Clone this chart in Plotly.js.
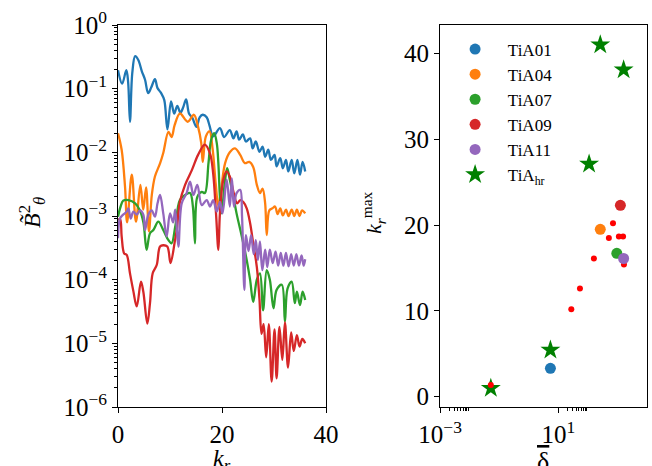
<!DOCTYPE html>
<html>
<head>
<meta charset="utf-8">
<script src="https://cdn.plot.ly/plotly-3.0.1.min.js"></script>
<style>html,body{margin:0;padding:0;background:#fff;}#chart{width:652px;height:466px;}</style>
</head>
<body>
<div id="chart"></div>
<script>
// ---- Left panel: spectra B_theta^2 vs k_r ----
const krA01 = [0,0.8,1.6,1.95,2.3,2.75,3.3,3.9,4.6,5.2,5.8,6.4,7.1,7.6,8.3,8.9,9.5,10.2,10.8,11.4,12.0,12.5,13.1,13.65,14.3,15.1,15.7,16.3,17.05,17.6,18.3,19.6,20.4,21.5,22.2,22.8,23.3,24.0,24.6,25.4,25.9,26.5,27.2,27.8,28.3,28.9,29.4,30.1,30.5,31.2,31.7,32.3,32.75,33.4,33.9,34.5,35.0,35.5,36.0];
const bA01 = [0.195,0.120,0.195,0.126,0.0302,0.178,0.324,0.282,0.186,0.138,0.0851,0.105,0.141,0.102,0.0851,0.0661,0.0229,0.0631,0.0407,0.0537,0.0417,0.0501,0.0676,0.0407,0.0347,0.0251,0.0355,0.0389,0.0355,0.0263,0.0178,0.0240,0.0174,0.0224,0.0166,0.0214,0.0158,0.0191,0.0148,0.0166,0.0115,0.0148,0.0102,0.0123,0.00851,0.0110,0.00759,0.00912,0.00603,0.00813,0.00562,0.00759,0.00501,0.00759,0.00468,0.00759,0.00447,0.00708,0.00501];

const krA04 = [0,0.7,1.35,1.75,2.65,3.45,4.3,4.85,5.4,5.95,6.5,7.1,8.1,8.7,9.7,10.3,10.9,11.9,13.4,14.6,15.4,16.0,16.3,16.9,17.6,18.2,18.8,19.3,19.8,20.6,21.5,22.5,23.5,24.4,25.25,26.0,26.7,27.3,27.8,28.3,28.6,29.1,29.7,30.2,30.7,31.2,31.7,32.3,32.8,33.4,33.9,34.4,34.9,35.4,36.0];
const bA04 = [0.0200,0.0110,0.00288,0.000794,0.00447,0.000813,0.00309,0.00126,0.00282,0.000575,0.00214,0.00417,0.00676,0.00977,0.0209,0.0174,0.0269,0.0407,0.0302,0.0389,0.0251,0.0141,0.00708,0.0178,0.0214,0.0112,0.00316,0.00141,0.00251,0.00676,0.0100,0.0115,0.00912,0.00676,0.00708,0.00589,0.00309,0.00229,0.00269,0.00158,0.000501,0.00123,0.00132,0.00141,0.00107,0.00132,0.00102,0.00126,0.00100,0.00126,0.00100,0.00126,0.00100,0.00123,0.00110];

const krA07 = [0,0.5,1.0,2.0,3.3,4.2,4.9,5.5,6.15,6.8,7.75,8.7,9.7,10.3,11.0,11.9,12.9,13.85,14.4,14.8,15.25,16.1,16.7,17.4,17.9,18.5,19.0,19.3,19.6,19.9,20.6,21.0,21.5,22.2,22.8,23.8,24.75,25.4,26.0,26.7,27.3,27.9,28.6,29.2,29.9,30.5,31.5,32.1,32.6,33.4,34.0,34.4,35.0,35.5,36.0];
const bA07 = [0.000977,0.00141,0.00174,0.00178,0.00158,0.00123,0.000776,0.000295,0.000537,0.000603,0.000813,0.000603,0.000417,0.000372,0.000676,0.00178,0.00214,0.00229,0.00141,0.000372,0.00200,0.00240,0.00229,0.00676,0.0155,0.0200,0.0138,0.00676,0.00200,0.00110,0.00372,0.00562,0.00372,0.00200,0.00110,0.000479,0.000204,0.000100,4.47e-5,1.00e-4,1.26e-4,3.31e-5,1.41e-4,1.00e-4,3.55e-5,6.92e-5,8.32e-5,2.19e-5,7.24e-5,9.33e-5,4.27e-5,6.46e-5,3.98e-5,6.46e-5,4.79e-5];

const krA09 = [0,0.4,0.7,1.2,1.67,2.3,2.95,3.6,4.42,4.87,5.64,6.15,6.67,7.44,8.08,8.7,9.48,10.1,10.96,11.3,11.9,12.9,14.2,15.4,16.7,17.7,18.3,18.85,19.3,19.6,20.25,20.9,21.5,22.2,22.9,23.5,24.1,24.75,25.4,26.0,26.7,27.2,27.6,28.0,28.5,29.0,29.55,30.1,30.5,31.05,31.6,32.1,32.7,33.3,33.8,34.4,34.9,35.45,36.0];
const bA09 = [0.000871,0.000891,0.000479,0.000257,0.000245,0.000126,6.61e-5,3.80e-5,9.33e-5,6.46e-5,2.04e-5,4.27e-5,1.26e-4,1.70e-4,3.31e-4,3.47e-4,3.31e-4,1.82e-4,4.17e-4,6.03e-4,0.00166,0.00309,0.00525,0.00912,0.0132,0.00955,0.00468,0.00110,0.000295,0.00110,0.00372,0.00501,0.00417,0.00240,0.00158,0.00178,0.00166,0.00132,0.000776,0.000372,0.000158,5.01e-5,1.41e-5,2.00e-5,6.03e-6,2.00e-5,2.51e-6,1.66e-5,2.82e-6,1.82e-5,5.50e-6,2.14e-5,4.17e-6,1.48e-5,7.59e-6,1.35e-5,8.91e-6,1.17e-5,1.00e-5];

const krA11 = [0,0.38,1.0,1.67,2.0,2.44,2.95,3.6,4.23,4.87,5.2,5.83,6.48,7.1,7.6,8.08,8.7,9.36,10.0,10.6,11.0,11.6,12.25,13.2,13.85,14.5,15.25,16.1,17.05,17.7,18.3,19.0,19.6,20.1,20.9,21.5,21.9,22.3,22.8,23.5,23.85,24.3,24.6,25.1,25.6,26.1,26.5,26.9,27.3,27.75,28.3,28.7,29.2,29.75,30.3,30.8,31.3,31.8,32.3,32.8,33.3,33.8,34.3,34.8,35.3,35.7,36.0];
const bA11 = [0.000447,0.000912,0.00105,0.00117,0.00132,0.000912,0.00117,0.00105,0.00123,0.00105,0.000603,0.00105,0.00123,0.000977,0.00158,0.00214,0.00110,0.000479,0.00110,0.000794,0.00126,0.000331,0.00158,0.00229,0.00347,0.00214,0.00309,0.00148,0.00178,0.00141,0.00178,0.00117,0.00166,0.00110,0.00372,0.00141,0.00389,0.00141,0.00229,0.00257,0.00100,6.92e-5,5.01e-4,2.82e-4,5.01e-4,2.51e-4,4.17e-4,2.04e-4,3.98e-4,1.41e-4,2.95e-4,1.58e-4,2.95e-4,1.82e-4,2.75e-4,1.66e-4,2.63e-4,1.66e-4,2.63e-4,1.62e-4,2.51e-4,1.66e-4,2.51e-4,1.66e-4,2.40e-4,1.66e-4,2.09e-4];

const seriesNames = ['TiA01','TiA04','TiA07','TiA09','TiA11'];
const seriesColors = ['#1f77b4','#ff7f0e','#2ca02c','#d62728','#9467bd'];

// ---- Right panel: k_r^max vs delta-bar ----
const deltaMain = [5.4, 263, 955, 1260, 1620];
const kmaxMain = [3.3, 19.5, 16.7, 22.3, 16.1];
const deltaHr = [0.052, 5.4, 110, 263, 1620];
const kmaxHr = [0.98, 5.44, 27.1, 41.0, 38.1];
const deltaSmall = [0.052, 27.5, 54, 160, 513, 708, 1120, 1550, 1660];
const kmaxSmall = [1.36, 10.2, 12.6, 16.1, 18.5, 20.2, 18.65, 18.65, 15.4];
const hrName = 'TiA<sub>hr</sub>';

// tick labels and titles
const leftYTickVals = [1, 1e-1, 1e-2, 1e-3, 1e-4, 1e-5, 1e-6];
const leftYTickText = ['10<sup>0</sup>','10<sup>−1</sup>','10<sup>−2</sup>','10<sup>−3</sup>','10<sup>−4</sup>','10<sup>−5</sup>','10<sup>−6</sup>'];
const rightXTickVals = [1e-3, 10];
const rightXTickText = ['10<sup>−3</sup>','10<sup>1</sup>'];
const leftXTitle = '<i>k<sub>r</sub></i>';
const leftYTitle = '<i>B̃</i><sup>2</sup><sub><i>θ</i></sub>';
const rightXTitle = '<span style="text-decoration:overline">δ</span>';
const rightYTitle = '<i>k</i><sub><i>r</i></sub><sup>max</sup>';

// minor tick positions (axis decoration)
const minorLeftY = [];
for (let e = -6; e < 0; e++) for (let m = 2; m <= 9; m++) minorLeftY.push(m * Math.pow(10, e));
const minorRightX = [];
[-3, 1].forEach(e => { for (let m = 2; m <= 9; m++) minorRightX.push(m * Math.pow(10, e)); });

const FONT = 'Liberation Serif, Times New Roman, serif';
const LEGPAD = '\u2002\u2005';

const traces = [];
const krs = [krA01, krA04, krA07, krA09, krA11];
const bs = [bA01, bA04, bA07, bA09, bA11];
for (let i = 0; i < 5; i++) {
  traces.push({
    x: krs[i], y: bs[i], xaxis: 'x', yaxis: 'y', mode: 'lines',
    line: {color: seriesColors[i], width: 2.3, shape: 'spline', smoothing: 1},
    showlegend: false, hoverinfo: 'skip'
  });
}
traces.push({
  x: deltaHr, y: kmaxHr, xaxis: 'x2', yaxis: 'y2', mode: 'markers', name: LEGPAD + hrName,
  marker: {symbol: 'star', size: 15, color: '#008000'}, legendrank: 6
});
traces.push({
  x: deltaSmall, y: kmaxSmall, xaxis: 'x2', yaxis: 'y2', mode: 'markers',
  marker: {symbol: 'circle', size: 6, color: '#ff0000'}, showlegend: false
});
for (let i = 0; i < 5; i++) {
  traces.push({
    x: [deltaMain[i]], y: [kmaxMain[i]], xaxis: 'x2', yaxis: 'y2', mode: 'markers',
    name: LEGPAD + seriesNames[i], marker: {symbol: 'circle', size: 11, color: seriesColors[i]},
    legendrank: i + 1
  });
}

const axCommon = {
  showline: true, mirror: true, linecolor: '#000', linewidth: 1,
  ticks: 'outside', ticklen: 5, tickwidth: 1, tickcolor: '#000',
  showgrid: false, zeroline: false,
  tickfont: {family: FONT, size: 25, color: '#000'}
};

// convert pixel positions to paper coordinates for the titles
const W = 652, H = 466, MT = 25, MB = 59;
const px2x = p => p / W;
const py2y = p => 1 - (p - MT) / (H - MT - MB);

const layout = {
  width: W, height: H,
  margin: {l: 0, r: 0, t: MT, b: MB},
  paper_bgcolor: '#fff', plot_bgcolor: '#fff',
  font: {family: FONT, color: '#000'},
  showlegend: true,
  legend: {x: 0.698, y: 0.983, xanchor: 'left', yanchor: 'top', bgcolor: 'rgba(0,0,0,0)',
           font: {family: FONT, size: 17, color: '#000'}, itemsizing: 'trace', traceorder: 'normal'},
  xaxis: Object.assign({}, axCommon, {
    domain: [0.181, 0.5], range: [0, 40], tickmode: 'array', tickvals: [0, 20, 40]
  }),
  yaxis: Object.assign({}, axCommon, {
    type: 'log', range: [-6, 0], tickmode: 'array', tickvals: leftYTickVals, ticktext: leftYTickText,
    minor: {tickmode: 'array', tickvals: minorLeftY, ticks: 'outside', ticklen: 3, tickwidth: 1, tickcolor: '#000'}
  }),
  xaxis2: Object.assign({}, axCommon, {
    anchor: 'y2', domain: [0.675, 0.9923], type: 'log', range: [-3, 4],
    tickmode: 'array', tickvals: rightXTickVals, ticktext: rightXTickText,
    minor: {tickmode: 'array', tickvals: minorRightX, ticks: 'outside', ticklen: 3, tickwidth: 1, tickcolor: '#000'}
  }),
  yaxis2: Object.assign({}, axCommon, {
    anchor: 'x2', range: [-1.2, 43.3], tickmode: 'array', tickvals: [0, 10, 20, 30, 40]
  }),
  annotations: [
    {text: leftXTitle, xref: 'paper', yref: 'paper', x: px2x(222), y: py2y(443), xanchor: 'center', yanchor: 'top',
     showarrow: false, font: {family: FONT, size: 24, color: '#000'}},
    {text: rightXTitle, xref: 'paper', yref: 'paper', x: px2x(543), y: py2y(445), xanchor: 'center', yanchor: 'top',
     showarrow: false, font: {family: FONT, size: 26, color: '#000'}},
    {text: leftYTitle, xref: 'paper', yref: 'paper', x: px2x(32), y: py2y(213), xanchor: 'center', yanchor: 'middle',
     textangle: -90, showarrow: false, font: {family: FONT, size: 24, color: '#000'}},
    {text: rightYTitle, xref: 'paper', yref: 'paper', x: px2x(373), y: py2y(213), xanchor: 'center', yanchor: 'middle',
     textangle: -90, showarrow: false, font: {family: FONT, size: 22, color: '#000'}}
  ]
};

Plotly.newPlot('chart', traces, layout, {displayModeBar: false, staticPlot: true});
</script>
</body>
</html>
